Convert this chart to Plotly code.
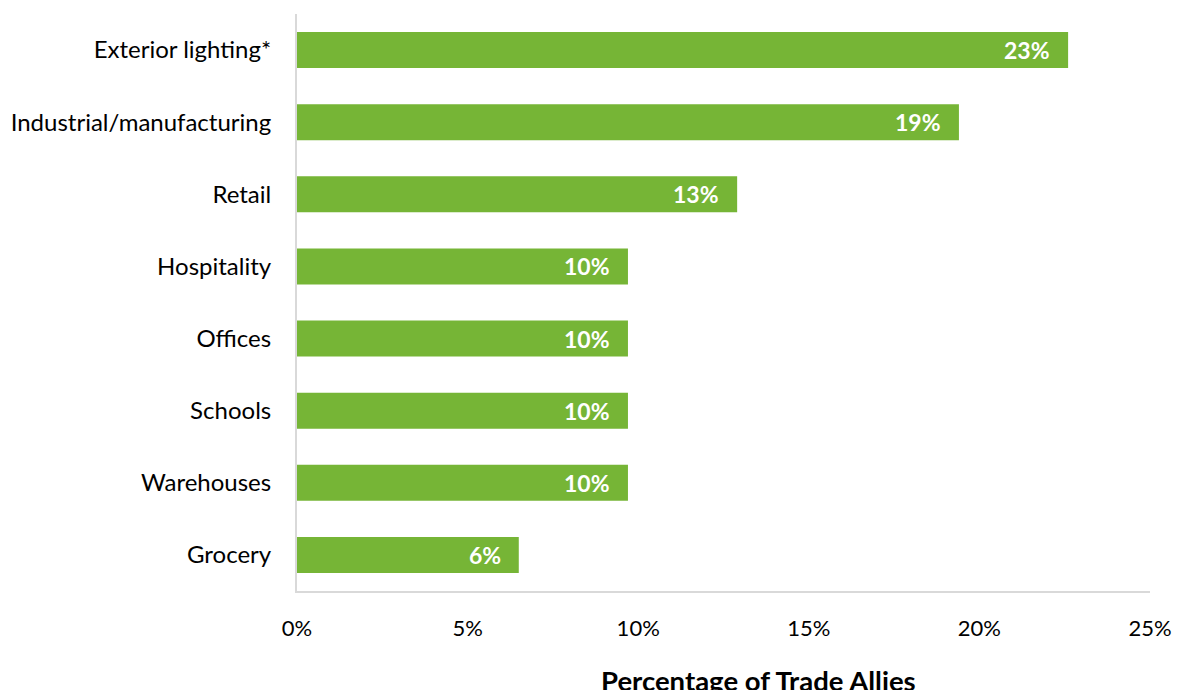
import plotly.graph_objects as go

# Share of trade allies by building/project type
categories = ["Exterior lighting*", "Industrial/manufacturing", "Retail", "Hospitality",
              "Offices", "Schools", "Warehouses", "Grocery"]
values = [22.6, 19.4, 12.9, 9.7, 9.7, 9.7, 9.7, 6.5]
x_ticks = [0, 5, 10, 15, 20, 25]
x_tick_labels = ["0%", "5%", "10%", "15%", "20%", "25%"]

BAR_COLOR = "#76b536"
AXIS_COLOR = "#d9d9d9"
FONT = "Lato, 'Open Sans', sans-serif"

fig = go.Figure(
    go.Bar(
        x=values,
        y=categories,
        orientation="h",
        marker=dict(color=BAR_COLOR, line=dict(width=0)),
        hoverinfo="skip",
    )
)

# Value labels inside the end of each bar
for cat, val in zip(categories, values):
    fig.add_annotation(
        x=val, y=cat, xref="x", yref="y",
        text=f"<b>{val:.0f}%</b>",
        showarrow=False, xanchor="right", yanchor="middle", xshift=-16,
        font=dict(family=FONT, size=23, color="white"),
    )

# Axis title
fig.add_annotation(
    x=0.5416, y=0, xref="paper", yref="paper",
    text="<b>Percentage of Trade Allies</b>",
    showarrow=False, xanchor="center", yanchor="middle", yshift=-89,
    font=dict(family=FONT, size=27.5, color="black"),
)

fig.update_layout(
    width=1177, height=690,
    margin=dict(l=297, r=27, t=14, b=99, autoexpand=False),
    paper_bgcolor="white", plot_bgcolor="white",
    bargap=0.5,
    showlegend=False,
    font=dict(family=FONT, size=22, color="black"),
)
fig.update_xaxes(
    range=[0, 25], automargin=False,
    tickvals=x_ticks, ticktext=x_tick_labels,
    showgrid=False, zeroline=False,
    showline=True, linecolor=AXIS_COLOR, linewidth=2,
    ticks="", ticklabelstandoff=17, ticklabeloverflow="allow",
    tickfont=dict(family=FONT, size=22, color="black"),
)
fig.update_yaxes(
    categoryorder="array", categoryarray=categories[::-1], automargin=False,
    showgrid=False, zeroline=False,
    showline=True, linecolor=AXIS_COLOR, linewidth=2,
    ticks="", ticklabelstandoff=19,
    tickfont=dict(family=FONT, size=24, color="black"),
)

fig.write_html("out.html")
